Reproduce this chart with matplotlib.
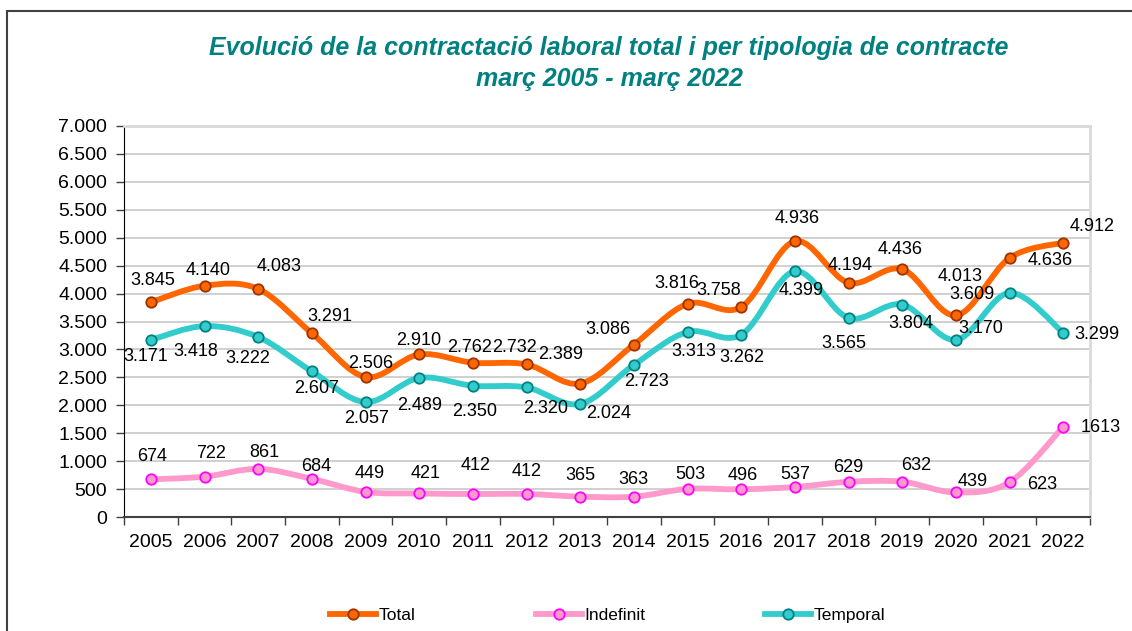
import numpy as np
import matplotlib
matplotlib.use('Agg')
import matplotlib.pyplot as plt
from matplotlib.path import Path
from matplotlib.patches import PathPatch, Rectangle
from matplotlib import ticker

plt.rcParams['font.family'] = ['Liberation Sans', 'DejaVu Sans']

years = ['2005', '2006', '2007', '2008', '2009', '2010', '2011', '2012', '2013',
         '2014', '2015', '2016', '2017', '2018', '2019', '2020', '2021', '2022']
total = [3845, 4140, 4083, 3291, 2506, 2910, 2762, 2732, 2389,
         3086, 3816, 3758, 4936, 4194, 4436, 3609, 4636, 4912]
indefinit = [674, 722, 861, 684, 449, 421, 412, 412, 365,
             363, 503, 496, 537, 629, 632, 439, 623, 1613]
temporal = [3171, 3418, 3222, 2607, 2057, 2489, 2350, 2320, 2024,
            2723, 3313, 3262, 4399, 3565, 3804, 3170, 4013, 3299]

# label offsets in pixels (dx right, dy down)
off_total = [(2, -22), (4, -15), (21, -22), (18, -17), (5, -14), (0, -14), (-3, -15), (-12, -17), (-20, -29),
             (-26, -15), (-11, -20), (-22, -17), (2, -23), (2, -17), (-2, -20), (16, -21), (41, 2), (29, -16)]
off_temp = [(-5, 17), (-9, 25), (-10, 21), (5, 17), (1, 16), (0, 28), (2, 26), (19, 21), (28, 10),
            (13, 17), (6, 20), (1, 23), (6, 19), (-5, 26), (9, 19), (25, -11), (-49, -16), (34, 2)]
off_ind = [(1, -23), (7, -23), (6, -16), (4, -12), (4, -18), (6, -20), (3, -28), (0, -22), (0, -21),
           (0, -17), (3, -14), (2, -14), (0, -13), (0, -14), (14, -16), (17, -11), (33, 2), (38, 1)]


def fmt(v):
    return '{:,.0f}'.format(v).replace(',', '.')


def smooth_path(xs, ys):
    # excel-like smoothed line: cubic bezier, catmull-rom control points
    p = np.column_stack([xs, ys]).astype(float)
    n = len(p)
    verts = [p[0]]
    codes = [Path.MOVETO]
    for i in range(n - 1):
        p0 = p[i - 1] if i > 0 else p[i]
        p3 = p[i + 2] if i + 2 < n else p[i + 1]
        c1 = p[i] + (p[i + 1] - p0) / 6.
        c2 = p[i + 1] - (p3 - p[i]) / 6.
        verts += [c1, c2, p[i + 1]]
        codes += [Path.CURVE4] * 3
    return Path(verts, codes)


fig = plt.figure(figsize=(11.32, 6.31), dpi=100)
ax = fig.add_axes([124/1132., 1 - 517/631., (1090 - 124)/1132., (517 - 126)/631.])

x = np.arange(len(years))
series = [
    ('Total', total, '#FF6600', '#FF6600', '#993300', off_total, True),
    ('Indefinit', indefinit, '#FF99CC', '#FF99CC', '#FF00FF', off_ind, False),
    ('Temporal', temporal, '#33CCCC', '#33CCCC', '#008080', off_temp, True),
]
handles = []
for name, vals, lc, mfc, mec, offs, thou in series:
    ax.add_patch(PathPatch(smooth_path(x, vals), fill=False, edgecolor=lc, lw=4.2,
                           capstyle='round', joinstyle='round', zorder=3))
    h, = ax.plot(x, vals, 'o', color=lc, lw=4.2, mfc=mfc, mec=mec, ms=7.5, mew=1.3,
                 linestyle='none', zorder=4)
    handles.append(h)
    for xi, v, (dx, dy) in zip(x, vals, offs):
        s = fmt(v) if (thou or v < 1000) else str(v)
        ax.annotate(s, (xi, v), xytext=(dx, -dy), textcoords='offset pixels',
                    ha='center', va='center', fontsize=13, color='black', zorder=5)

ax.set_xlim(-0.5, len(years) - 0.5)
ax.set_ylim(0, 7000)
ax.yaxis.set_major_locator(ticker.MultipleLocator(500))
ax.yaxis.set_major_formatter(ticker.FuncFormatter(lambda v, p: fmt(v)))
ax.set_xticks(np.arange(len(years) + 1) - 0.5)
ax.set_xticklabels([])
ax.set_xticks(x, minor=True)
ax.set_xticklabels(years, minor=True)
ax.tick_params(axis='x', which='major', direction='out', length=6, width=1, color='#404040')
ax.tick_params(axis='x', which='minor', length=0, labelsize=14, pad=12)
ax.tick_params(axis='y', direction='out', length=6, width=1, labelsize=14, pad=6, color='#404040')
ax.grid(axis='y', color='#C8C8C8', lw=1.2, zorder=0)
ax.set_axisbelow(True)
for s in ['top', 'right']:
    ax.spines[s].set_color('#D9D9D9')
    ax.spines[s].set_linewidth(2)
ax.spines['left'].set_color('black')
ax.spines['bottom'].set_color('#404040')
ax.spines['bottom'].set_linewidth(1.5)

fig.text(0.538, 1 - 48/631., 'Evolució de la contractació laboral total i per tipologia de contracte',
         ha='center', va='center', fontsize=18, fontweight='bold', fontstyle='italic', color='#008080')
fig.text(0.538, 1 - 79/631., 'març 2005 - març 2022',
         ha='center', va='center', fontsize=18, fontweight='bold', fontstyle='italic', color='#008080')

leg = fig.legend(handles, [s[0] for s in series], loc='center', bbox_to_anchor=(0.537, 1 - 615/631.),
                 ncol=3, frameon=False, fontsize=12.5, handlelength=2.65, handletextpad=0.15,
                 columnspacing=6.9, borderaxespad=0)
for lh, s in zip(leg.legend_handles, series):
    lh.set_linestyle('-')
    lh.set_linewidth(4.2)

fig.add_artist(Rectangle((7/1132., -0.1), 1.2, 1 - 11/631. + 0.1, transform=fig.transFigure,
                         fill=False, edgecolor='#404040', lw=1.5))

fig.savefig('out.png', dpi=100)
plt.close()
